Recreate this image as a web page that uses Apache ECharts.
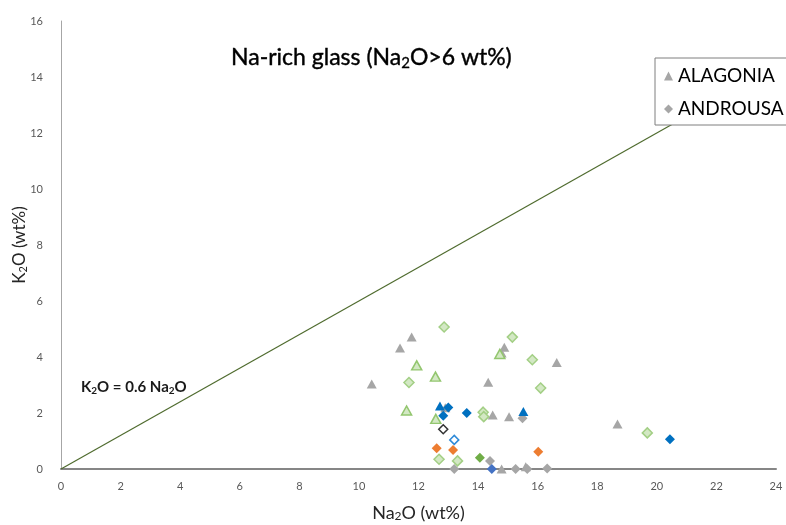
<!DOCTYPE html>
<html>
<head>
<meta charset="utf-8">
<script src="https://cdn.jsdelivr.net/npm/echarts@6/dist/echarts.min.js"></script>
<style>html,body{margin:0;padding:0;background:#fff;}#c{width:786px;height:525px;}</style>
</head>
<body>
<div id="c"></div>
<script>
// ---- data ----
const xTicks = [0,2,4,6,8,10,12,14,16,18,20,22,24];
const yTicks = [0,2,4,6,8,10,12,14,16];
const refLine = [[0,0],[24,14.4]];
const alagoniaX = [11.77,11.38,10.43,14.34,14.88,14.79,16.64,12.90,14.49,15.04,14.79,15.60,18.68];
const alagoniaY = [4.71,4.32,3.04,3.10,4.35,4.14,3.80,2.19,1.93,1.87,0.00,0.08,1.61];
const androusaX = [15.49,14.40,13.20,15.26,15.65,16.32];
const androusaY = [1.81,0.29,0.00,0.00,0.00,0.02];
const greenTriX = [11.94,12.57,11.60,12.58,14.73];
const greenTriY = [3.70,3.30,2.09,1.79,4.11];
const greenDiaX = [12.86,11.68,15.15,15.82,16.10,14.17,14.19,12.69,13.31,19.68];
const greenDiaY = [5.07,3.09,4.71,3.90,2.89,2.03,1.87,0.35,0.29,1.29];
const blueTriX = [12.72,15.52];
const blueTriY = [2.25,2.05];
const blueDiaX = [13.00,12.83,13.62,20.44];
const blueDiaY = [2.20,1.90,2.00,1.06];
const openBlueX = [13.20];
const openBlueY = [1.04];
const openBlackX = [12.83];
const openBlackY = [1.42];
const orangeX = [12.61,13.16,16.02];
const orangeY = [0.74,0.68,0.62];
const darkGreenX = [14.06];
const darkGreenY = [0.40];
const royalX = [14.46];
const royalY = [0.00];

const zip = (a,b) => a.map((v,i)=>[v,b[i]]);
const FONT = 'Lato';

function sc(name, xs, ys, symbol, size, fill, stroke, bw) {
  return {
    name: name, type: 'scatter', data: zip(xs, ys), symbol: symbol, symbolSize: size,
    itemStyle: { color: fill, borderColor: stroke || fill, borderWidth: bw || 0, opacity: 1 },
    emphasis: { disabled: true }, z: 3
  };
}

const chart = echarts.init(document.getElementById('c'), null, {renderer: 'canvas'});
chart.setOption({
  animation: false,
  backgroundColor: '#fff',
  textStyle: { fontFamily: FONT },
  title: [{
    text: '{a|Na-rich glass (Na}{s|2}{a|O>6 wt%)}',
    left: 226, top: 38,
    textStyle: { rich: {
      a: { fontFamily: FONT, fontSize: 23, fontWeight: 'normal', color: '#000', lineHeight: 30, textBorderColor: '#000', textBorderWidth: 0.4 },
      s: { fontFamily: FONT, fontSize: 15, fontWeight: 'normal', color: '#000', lineHeight: 30, padding: [10,0,0,0], textBorderColor: '#000', textBorderWidth: 0.3 }
    }}
  }, {
    text: '{a|K}{s|2}{a|O = 0.6 Na}{s|2}{a|O}',
    left: 76, top: 372,
    textStyle: { rich: {
      a: { fontFamily: FONT, fontSize: 15, color: '#1a1a1a', lineHeight: 20 },
      s: { fontFamily: FONT, fontSize: 10, color: '#1a1a1a', lineHeight: 20, padding: [7,0,0,0] }
    }}
  }],
  legend: {
    data: ['ALAGONIA', 'ANDROUSA'],
    orient: 'vertical', left: 655, top: 58,
    padding: [7, 14, 5, 9], itemGap: 11,
    itemWidth: 9, itemHeight: 9,
    borderColor: '#7f7f7f', borderWidth: 1, backgroundColor: '#fff',
    textStyle: { fontFamily: FONT, fontSize: 19, color: '#000', lineHeight: 22 },
    selectedMode: false
  },
  grid: { left: 61, right: 10, top: 21, bottom: 56, containLabel: false, outerBoundsMode: 'none' },
  xAxis: {
    type: 'value', min: 0, max: 24, interval: 2,
    name: '{a|Na}{s|2}{a|O (wt%)}', nameLocation: 'middle', nameGap: 33, nameMoveOverlap: false,
    nameTextStyle: { rich: {
      a: { fontFamily: FONT, fontSize: 18, color: '#262626', lineHeight: 22 },
      s: { fontFamily: FONT, fontSize: 12, color: '#262626', lineHeight: 22, padding: [7,0,0,0] }
    }},
    axisLine: { lineStyle: { color: '#868686', width: 2 } },
    axisTick: { show: false }, splitLine: { show: false },
    axisLabel: { fontFamily: FONT, fontSize: 11, color: '#595959', margin: 12,
      formatter: v => xTicks.includes(v) ? String(v) : '' }
  },
  yAxis: {
    type: 'value', min: 0, max: 16, interval: 2,
    name: '{a|K}{s|2}{a|O (wt%)}', nameLocation: 'middle', nameGap: 30, nameRotate: 90, nameMoveOverlap: false,
    nameTextStyle: { rich: {
      a: { fontFamily: FONT, fontSize: 17, color: '#262626', lineHeight: 22 },
      s: { fontFamily: FONT, fontSize: 11, color: '#262626', lineHeight: 22, padding: [7,0,0,0] }
    }},
    axisLine: { show: true, lineStyle: { color: '#a6a6a6', width: 1 } },
    axisTick: { show: false }, splitLine: { show: false },
    axisLabel: { fontFamily: FONT, fontSize: 11, color: '#595959', margin: 18,
      formatter: v => yTicks.includes(v) ? String(v) : '' }
  },
  series: [
    { name: 'ref', type: 'line', data: refLine, symbol: 'none', z: 2,
      lineStyle: { color: '#4f6b2e', width: 1.2 }, emphasis: { disabled: true } },
    sc('ALAGONIA', alagoniaX, alagoniaY, 'triangle', [10, 9], '#a6a6a6'),
    sc('ANDROUSA', androusaX, androusaY, 'diamond', [10, 10], '#a6a6a6'),
    sc('greenTri', greenTriX, greenTriY, 'triangle', [10, 9], '#d3e8c4', '#93c66f', 1.5),
    sc('greenDia', greenDiaX, greenDiaY, 'diamond', [10, 10], '#d3e8c4', '#a3cf85', 1.5),
    sc('blueTri', blueTriX, blueTriY, 'triangle', [10, 9], '#0070c0'),
    sc('blueDia', blueDiaX, blueDiaY, 'diamond', [10, 10], '#0070c0'),
    sc('openBlue', openBlueX, openBlueY, 'diamond', [9, 9], '#ffffff', '#2e8ad8', 1.5),
    sc('openBlack', openBlackX, openBlackY, 'diamond', [9, 9], '#ffffff', '#333333', 1.5),
    sc('orange', orangeX, orangeY, 'diamond', [10, 10], '#ed7d31'),
    sc('darkGreen', darkGreenX, darkGreenY, 'diamond', [10, 10], '#70ad47'),
    sc('royal', royalX, royalY, 'diamond', [10, 10], '#4472c4')
  ]
});
</script>
</body>
</html>
